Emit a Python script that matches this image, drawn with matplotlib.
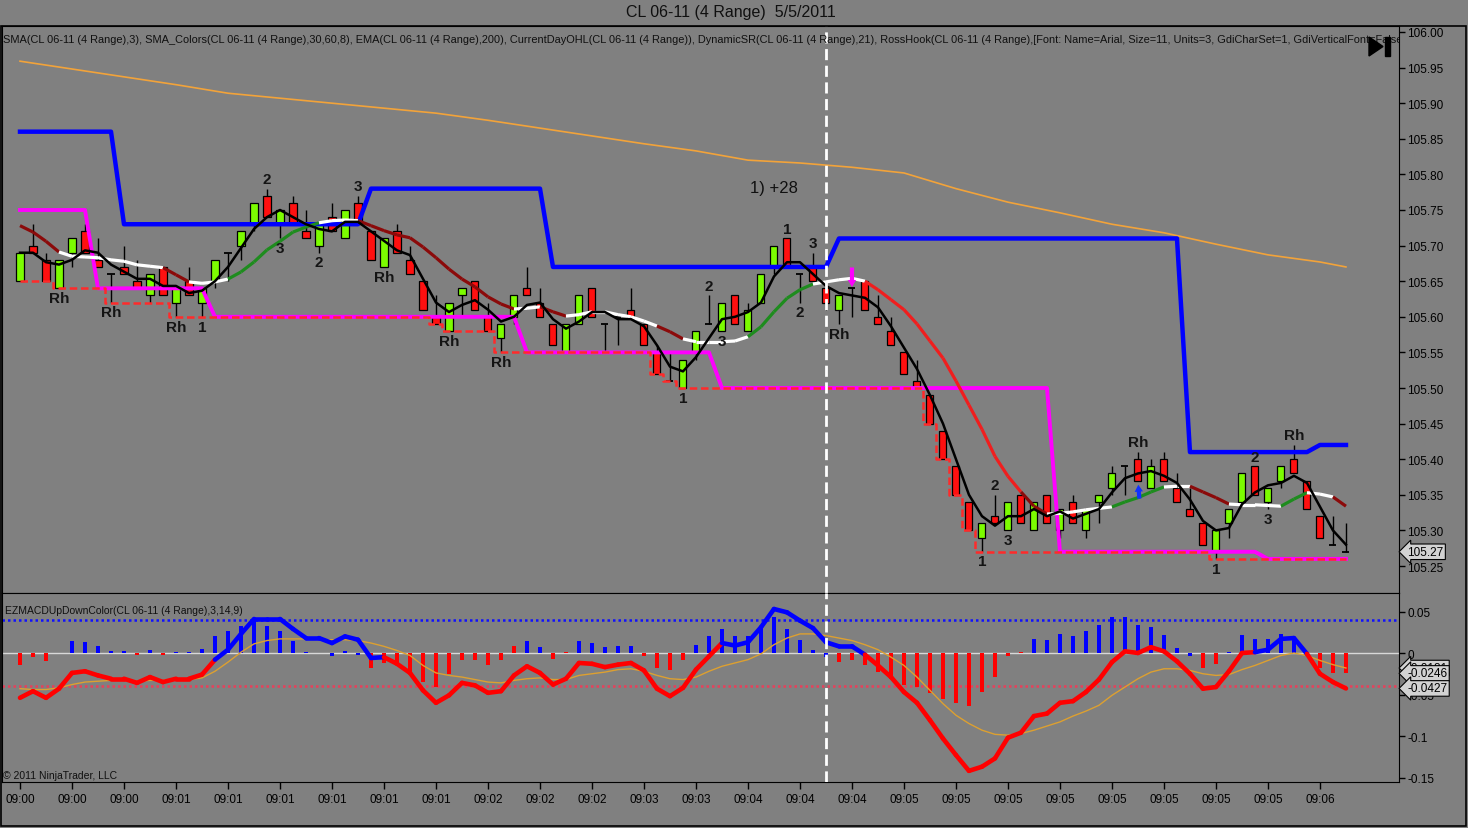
import numpy as np
import pandas as pd
import matplotlib
matplotlib.use('Agg')
import matplotlib.pyplot as plt
from matplotlib.collections import LineCollection
from matplotlib.patches import Rectangle, Polygon

plt.rcParams['font.family'] = ['Liberation Sans', 'DejaVu Sans']

# ---- 4 range bars, CL 06-11, 5/5/2011 ----
opens = [105.65, 105.70, 105.68, 105.64, 105.69, 105.72, 105.68, 105.66, 105.67, 105.65,
         105.63, 105.67, 105.62, 105.65, 105.62, 105.65, 105.69, 105.70, 105.73, 105.77,
         105.73, 105.76, 105.72, 105.70, 105.74, 105.71, 105.76, 105.72, 105.67, 105.72,
         105.68, 105.65, 105.60, 105.58, 105.63, 105.65, 105.60, 105.57, 105.60, 105.64,
         105.62, 105.59, 105.55, 105.59, 105.64, 105.59, 105.60, 105.61, 105.59, 105.55,
         105.51, 105.50, 105.55, 105.59, 105.58, 105.63, 105.58, 105.62, 105.67, 105.71,
         105.66, 105.67, 105.64, 105.61, 105.64, 105.65, 105.60, 105.58, 105.55, 105.51,
         105.49, 105.44, 105.39, 105.34, 105.29, 105.32, 105.30, 105.35, 105.30, 105.35,
         105.30, 105.34, 105.30, 105.34, 105.36, 105.39, 105.40, 105.36, 105.40, 105.36,
         105.33, 105.31, 105.27, 105.31, 105.34, 105.39, 105.34, 105.37, 105.40, 105.37,
         105.32, 105.28, 105.27]
highs = [105.69, 105.73, 105.69, 105.68, 105.71, 105.73, 105.71, 105.66, 105.70, 105.68,
         105.66, 105.67, 105.64, 105.67, 105.64, 105.68, 105.69, 105.72, 105.76, 105.78,
         105.75, 105.77, 105.75, 105.73, 105.76, 105.75, 105.77, 105.72, 105.71, 105.73,
         105.70, 105.65, 105.63, 105.62, 105.64, 105.65, 105.62, 105.59, 105.63, 105.67,
         105.64, 105.59, 105.59, 105.63, 105.64, 105.59, 105.60, 105.64, 105.59, 105.56,
         105.55, 105.54, 105.58, 105.63, 105.62, 105.63, 105.62, 105.66, 105.70, 105.71,
         105.66, 105.69, 105.64, 105.63, 105.64, 105.65, 105.63, 105.60, 105.55, 105.54,
         105.49, 105.44, 105.39, 105.34, 105.31, 105.35, 105.34, 105.35, 105.34, 105.35,
         105.33, 105.35, 105.33, 105.35, 105.39, 105.39, 105.41, 105.40, 105.41, 105.38,
         105.36, 105.31, 105.30, 105.33, 105.38, 105.39, 105.36, 105.39, 105.42, 105.37,
         105.32, 105.32, 105.31]
lows = [105.65, 105.69, 105.65, 105.64, 105.67, 105.69, 105.67, 105.62, 105.66, 105.64,
        105.62, 105.63, 105.60, 105.63, 105.60, 105.64, 105.65, 105.68, 105.72, 105.74,
        105.71, 105.73, 105.71, 105.69, 105.72, 105.71, 105.73, 105.68, 105.67, 105.69,
        105.66, 105.61, 105.59, 105.58, 105.60, 105.61, 105.58, 105.55, 105.59, 105.63,
        105.60, 105.56, 105.55, 105.59, 105.60, 105.55, 105.56, 105.60, 105.56, 105.52,
        105.51, 105.50, 105.54, 105.59, 105.58, 105.59, 105.58, 105.62, 105.66, 105.67,
        105.62, 105.65, 105.61, 105.59, 105.60, 105.61, 105.59, 105.56, 105.52, 105.50,
        105.45, 105.40, 105.35, 105.30, 105.27, 105.31, 105.30, 105.31, 105.30, 105.31,
        105.29, 105.31, 105.29, 105.31, 105.35, 105.35, 105.37, 105.36, 105.37, 105.34,
        105.32, 105.28, 105.26, 105.29, 105.34, 105.35, 105.33, 105.36, 105.38, 105.33,
        105.29, 105.28, 105.27]
closes = [105.69, 105.69, 105.65, 105.68, 105.71, 105.69, 105.67, 105.66, 105.66, 105.64,
          105.66, 105.63, 105.64, 105.63, 105.64, 105.68, 105.69, 105.72, 105.76, 105.74,
          105.75, 105.73, 105.71, 105.73, 105.72, 105.75, 105.73, 105.68, 105.71, 105.69,
          105.66, 105.61, 105.59, 105.62, 105.64, 105.61, 105.58, 105.59, 105.63, 105.63,
          105.60, 105.56, 105.59, 105.63, 105.60, 105.59, 105.60, 105.60, 105.56, 105.52,
          105.51, 105.54, 105.58, 105.59, 105.62, 105.59, 105.61, 105.66, 105.70, 105.67,
          105.66, 105.65, 105.62, 105.63, 105.64, 105.61, 105.59, 105.56, 105.52, 105.50,
          105.45, 105.40, 105.35, 105.30, 105.31, 105.31, 105.34, 105.31, 105.34, 105.31,
          105.33, 105.31, 105.33, 105.35, 105.38, 105.39, 105.37, 105.39, 105.37, 105.34,
          105.32, 105.28, 105.30, 105.33, 105.38, 105.35, 105.36, 105.39, 105.38, 105.33,
          105.29, 105.28, 105.27]

# SMA_Colors line and its colour per segment
sma_col = [105.728, 105.719, 105.706, 105.691, 105.685, 105.684, 105.683, 105.680, 105.678, 105.673,
           105.671, 105.669, 105.659, 105.649, 105.647, 105.649, 105.653, 105.663, 105.677, 105.694,
           105.706, 105.719, 105.726, 105.732, 105.735, 105.736, 105.735, 105.728, 105.721, 105.715,
           105.711, 105.698, 105.683, 105.667, 105.653, 105.642, 105.628, 105.618, 105.611, 105.612,
           105.614, 105.607, 105.601, 105.603, 105.607, 105.607, 105.603, 105.600, 105.594, 105.587,
           105.579, 105.569, 105.565, 105.565, 105.565, 105.566, 105.572, 105.586, 105.607, 105.626,
           105.638, 105.646, 105.649, 105.652, 105.654, 105.650, 105.638, 105.624, 105.610, 105.590,
           105.566, 105.542, 105.510, 105.476, 105.442, 105.404, 105.376, 105.354, 105.334, 105.323,
           105.324, 105.326, 105.329, 105.331, 105.333, 105.340, 105.346, 105.354, 105.361, 105.362,
           105.362, 105.354, 105.346, 105.337, 105.336, 105.336, 105.335, 105.334, 105.344, 105.353,
           105.351, 105.347, 105.334]
sma_codes = ('dddd' 'wwwwwwww' 'dd' 'www' 'ggggggg' 'www' 'dddddddddddd' 'ww' 'dd' 'wwwwwww'
             'dd' 'wwwww' 'ggggg' 'wwww' 'RRRRRRRRRRRR' 'dd' 'wwwww' 'gggg' 'ww' 'ddd' 'wwww'
             'gg' 'ww' 'd')

# EMA(200) read at every fourth bar
ema_bars = [0, 4, 8, 12, 16, 20, 24, 28, 32, 36, 40, 44, 48, 52, 56, 60, 64, 68, 72, 76,
            80, 84, 88, 92, 96, 100, 102]
ema_vals = [105.959, 105.948, 105.937, 105.926, 105.914, 105.907, 105.900, 105.893, 105.886,
            105.876, 105.865, 105.854, 105.843, 105.833, 105.820, 105.816, 105.810, 105.802,
            105.780, 105.761, 105.746, 105.730, 105.718, 105.702, 105.687, 105.677, 105.670]

# DynamicSR levels
resist = [105.86]*8 + [105.73]*19 + [105.78]*14 + [105.67]*22 + [105.71]*27 + [105.41]*10 + [105.42]*3
support = [105.75]*6 + [105.64]*9 + [105.60]*24 + [105.55]*15 + [105.50]*26 + [105.27]*16 + [105.26]*7

# RossHook labels
hook_bars = [3, 7, 12, 14, 19, 20, 23, 26, 28, 33, 37, 51, 53, 54, 59, 60, 61, 63, 74, 75, 76,
             86, 92, 95, 96, 98]
hook_text = ['Rh', 'Rh', 'Rh', '1', '2', '3', '2', '3', 'Rh', 'Rh', 'Rh', '1', '2', '3', '1',
             '2', '3', 'Rh', '1', '2', '3', 'Rh', '1', '2', '3', 'Rh']
hook_side = ['b', 'b', 'b', 'b', 'a', 'b', 'b', 'a', 'b', 'b', 'b', 'b', 'a', 'b', 'a',
             'b', 'a', 'b', 'b', 'a', 'b', 'a', 'b', 'a', 'b', 'a']

# EZMACD panel
hist = [-0.015, -0.005, -0.010, 0.000, 0.015, 0.013, 0.008, 0.002, 0.002, -0.002,
        0.004, -0.002, 0.001, 0.001, 0.005, 0.020, 0.026, 0.033, 0.041, 0.033,
        0.027, 0.014, 0.001, 0.000, -0.004, 0.003, -0.002, -0.018, -0.012, -0.015,
        -0.025, -0.035, -0.041, -0.025, -0.008, -0.008, -0.014, -0.009, 0.008, 0.014,
        0.007, -0.007, 0.001, 0.015, 0.012, 0.007, 0.008, 0.008, -0.004, -0.018,
        -0.020, -0.009, 0.010, 0.020, 0.029, 0.021, 0.020, 0.031, 0.043, 0.029,
        0.016, 0.004, -0.005, -0.011, -0.009, -0.015, -0.023, -0.031, -0.039, -0.041,
        -0.048, -0.056, -0.060, -0.064, -0.047, -0.029, -0.004, 0.001, 0.017, 0.016,
        0.023, 0.021, 0.027, 0.034, 0.043, 0.043, 0.034, 0.031, 0.022, 0.006,
        -0.004, -0.018, -0.013, 0.001, 0.022, 0.017, 0.017, 0.023, 0.019, 0.000,
        -0.018, -0.024, -0.0246]
hist_codes = ('rrrbbbbbbrbrbbbbbbbbbbbbbbb' 'rrrrrrrrrrrr' 'bb' 'rr' 'bbbbb' 'rrrr' 'b'
              'bbbbbbbbbb' 'rrrrrrrrrrrrrrr' 'bbbbbbbbbbbbb' 'rr' 'bbbbbbb' 'rrr')
macd = [-0.054, -0.046, -0.054, -0.043, -0.024, -0.022, -0.027, -0.031, -0.031, -0.036,
        -0.029, -0.035, -0.031, -0.031, -0.026, -0.008, 0.004, 0.023, 0.041, 0.041,
        0.041, 0.029, 0.018, 0.018, 0.012, 0.020, 0.016, -0.006, -0.005, -0.013,
        -0.024, -0.045, -0.060, -0.051, -0.036, -0.039, -0.048, -0.046, -0.027, -0.016,
        -0.024, -0.038, -0.031, -0.012, -0.013, -0.017, -0.014, -0.012, -0.021, -0.043,
        -0.052, -0.042, -0.020, -0.004, 0.012, 0.009, 0.013, 0.031, 0.053, 0.049,
        0.039, 0.030, 0.013, 0.008, 0.008, -0.002, -0.015, -0.029, -0.047, -0.060,
        -0.081, -0.103, -0.123, -0.142, -0.137, -0.127, -0.102, -0.096, -0.076, -0.073,
        -0.060, -0.058, -0.047, -0.032, -0.011, 0.002, 0.000, 0.007, 0.002, -0.010,
        -0.025, -0.043, -0.041, -0.022, 0.000, 0.001, 0.004, 0.017, 0.018, -0.001,
        -0.025, -0.035, -0.0427]
macd_codes = 'r'*16 + 'b'*13 + 'r'*26 + 'b'*11 + 'r'*30 + 'b'*4 + 'r'*3
signal = [-0.043, -0.044, -0.044, -0.042, -0.038, -0.035, -0.034, -0.033, -0.033, -0.034,
          -0.033, -0.033, -0.032, -0.032, -0.030, -0.022, -0.011, 0.001, 0.011, 0.015,
          0.017, 0.017, 0.017, 0.016, 0.016, 0.016, 0.015, 0.012, 0.008, 0.003,
          -0.003, -0.015, -0.024, -0.027, -0.029, -0.032, -0.035, -0.036, -0.033, -0.031,
          -0.030, -0.032, -0.032, -0.027, -0.025, -0.023, -0.020, -0.019, -0.022, -0.027,
          -0.031, -0.032, -0.029, -0.022, -0.016, -0.012, -0.008, -0.001, 0.010, 0.018,
          0.023, 0.023, 0.021, 0.018, 0.015, 0.010, 0.004, -0.005, -0.015, -0.029,
          -0.045, -0.061, -0.075, -0.085, -0.093, -0.098, -0.099, -0.097, -0.093, -0.088,
          -0.083, -0.076, -0.070, -0.063, -0.051, -0.041, -0.031, -0.023, -0.019, -0.019,
          -0.021, -0.025, -0.027, -0.026, -0.020, -0.015, -0.009, -0.003, 0.000, -0.003,
          -0.009, -0.014, -0.0181]

time_labels = ['09:00', '09:00', '09:00', '09:01', '09:01', '09:01', '09:01', '09:01', '09:01',
               '09:02', '09:02', '09:02', '09:03', '09:03', '09:04', '09:04', '09:04', '09:05',
               '09:05', '09:05', '09:05', '09:05', '09:05', '09:05', '09:05', '09:06']

# ---- figure ----
BG = '#808080'
fig = plt.figure(figsize=(14.68, 8.29), dpi=100, facecolor=BG)
W, H = 1468.0, 829.0
def box(l, t, r, b):
    return [l / W, 1 - b / H, (r - l) / W, (b - t) / H]

ax = fig.add_axes(box(2, 27, 1399, 594), facecolor=BG)
ax2 = fig.add_axes(box(2, 594, 1399, 783), facecolor=BG, sharex=ax)

x = np.arange(len(closes))
o, h, l, c = (np.array(v) for v in (opens, highs, lows, closes))

# candles
ax.vlines(x, l, h, color='black', lw=1, zorder=3)
bw = 0.54
for i in x:
    if c[i] == o[i]:
        ax.hlines(o[i], i - bw / 2, i + bw / 2, color='black', lw=1.3, zorder=4)
    else:
        fc = '#7CFC00' if c[i] > o[i] else '#FF1010'
        ax.add_patch(Rectangle((i - bw / 2, min(o[i], c[i])), bw, abs(c[i] - o[i]),
                               fc=fc, ec='black', lw=0.9, zorder=4))

# EMA 200
ax.plot(ema_bars, ema_vals, color='#F2A33A', lw=1.2, zorder=2)

# DynamicSR
ax.plot(x, resist, color='#0000FF', lw=3.2, zorder=5)
ax.plot(x, support, color='#FF00FF', lw=2.8, zorder=5)

# CurrentDayOHL low
day_low = np.minimum.accumulate(l)
ax.plot(x, day_low, color='#FF2A2A', lw=1.8, ls=(0, (3, 1.5)), drawstyle='steps-mid', zorder=6)

# SMA_Colors
cmap = {'d': '#8B0A0A', 'w': '#FFFFFF', 'g': '#1E8C1E', 'R': '#F01E1E'}
pts = np.column_stack([x, sma_col])
segs = np.stack([pts[:-1], pts[1:]], axis=1)
ax.add_collection(LineCollection(segs, colors=[cmap[k] for k in sma_codes[1:]], lw=2.3, zorder=7))

# SMA 3
sma3 = pd.Series(closes).rolling(3, min_periods=1).mean()
ax.plot(x, sma3, color='black', lw=1.8, zorder=8)

# RossHook labels
for b, t, s in zip(hook_bars, hook_text, hook_side):
    if s == 'a':
        ax.annotate(t, (b, h[b]), xytext=(0, 7), textcoords='offset points', ha='center',
                    va='center', fontsize=11, fontweight='bold', color='#141414', zorder=9)
    else:
        ax.annotate(t, (b, l[b]), xytext=(0, -7), textcoords='offset points', ha='center',
                    va='center', fontsize=11, fontweight='bold', color='#141414', zorder=9)

# trade markers
arrow = 'simple,head_width=0.6,head_length=0.5,tail_width=0.3'
ax.annotate('', xy=(64, h[64]), xycoords='data', xytext=(0, 15), textcoords='offset points',
            arrowprops=dict(arrowstyle=arrow, color='#FF00FF', lw=0, shrinkA=0, shrinkB=1),
            zorder=9)
ax.annotate('', xy=(86, l[86]), xycoords='data', xytext=(1, -13), textcoords='offset points',
            arrowprops=dict(arrowstyle=arrow, color='#1030FF', lw=0, shrinkA=0, shrinkB=3),
            zorder=9)
ax.text(58, 105.782, '1) +28', fontsize=12, ha='center', va='center', color='#101010', zorder=9)

# session divider
for a in (ax, ax2):
    a.axvline(62, color='white', lw=2, ls=(0, (4, 2)), zorder=10)

ax.set_xlim(-1.385, 106.08)
ax.set_ylim(105.2121, 106.0084)
ax.set_yticks(np.arange(105.25, 106.001, 0.05))
ax.yaxis.tick_right()
ax.tick_params(axis='y', direction='out', length=4, width=1, labelsize=8.5, pad=2)
ax.tick_params(axis='x', bottom=False, labelbottom=False)
for sp in ax.spines.values():
    sp.set_color('black')

ax.text(0.001, 0.977, 'SMA(CL 06-11 (4 Range),3), SMA_Colors(CL 06-11 (4 Range),30,60,8), '
        'EMA(CL 06-11 (4 Range),200), CurrentDayOHL(CL 06-11 (4 Range)), DynamicSR(CL 06-11 '
        '(4 Range),21), RossHook(CL 06-11 (4 Range),[Font: Name=Arial, Size=11, Units=3, '
        'GdiCharSet=1, GdiVerticalFont=False])', transform=ax.transAxes, fontsize=7.9,
        va='center', ha='left', color='#101010', clip_on=True, zorder=11)

tag = dict(boxstyle='larrow,pad=0.15', fc='#D2D2D2', ec='black', lw=0.8)
ax.annotate(f'{closes[-1]:.2f}', xy=(1.0, closes[-1]), xycoords=('axes fraction', 'data'),
            xytext=(6, 0), textcoords='offset points', fontsize=8.5, va='center', ha='left',
            bbox=tag, annotation_clip=False, zorder=12)

# MACD panel
ax2.axhline(0, color='#D8D8D8', lw=1, zorder=1)
ax2.axhline(0.04, color='#1010FF', lw=1.8, ls=(0, (1, 1.2)), zorder=1)
ax2.axhline(-0.04, color='#E8405A', lw=1.8, ls=(0, (1, 1.2)), zorder=1)
ax2.bar(x, hist, width=0.24, color=['#0000FF' if k == 'b' else '#FF0000' for k in hist_codes],
        zorder=2)
ax2.plot(x, signal, color='#DDA030', lw=1, zorder=3)
mp = np.column_stack([x, macd])
ax2.add_collection(LineCollection(np.stack([mp[:-1], mp[1:]], axis=1),
                                  colors=['#0000FF' if k == 'b' else '#FF0000' for k in macd_codes[1:]],
                                  lw=3.3, capstyle='round', joinstyle='round', zorder=4))
ax2.set_ylim(-0.15542, 0.07229)
ax2.set_yticks([0.05, 0, -0.05, -0.1, -0.15])
ax2.set_yticklabels(['0.05', '0', '-0.05', '-0.1', '-0.15'])
ax2.yaxis.tick_right()
ax2.tick_params(axis='y', direction='out', length=4, width=1, labelsize=8.5, pad=2)
ax2.set_xticks(x[::4])
ax2.set_xticklabels(time_labels)
ax2.tick_params(axis='x', direction='out', length=5, width=1, labelsize=8.5, pad=3)
for sp in ax2.spines.values():
    sp.set_color('black')

# value tags (stacked like the original, last one drawn on top)
for val in (signal[-1], hist[-1], macd[-1]):
    ax2.annotate(f'{val:.4f}', xy=(1.0, val), xycoords=('axes fraction', 'data'),
                 xytext=(6, 0), textcoords='offset points', fontsize=8.5, va='center',
                 ha='left', bbox=tag, annotation_clip=False, zorder=12)

ax2.text(0.002, 0.91, 'EZMACDUpDownColor(CL 06-11 (4 Range),3,14,9)', transform=ax2.transAxes,
         fontsize=7.5, va='center', ha='left', color='#101010')
ax2.text(0.001, 0.037, '\u00a9 2011 NinjaTrader, LLC', transform=ax2.transAxes,
         fontsize=7.5, va='center', ha='left', color='#101010')

fig.text(731 / W, 1 - 13 / H, 'CL 06-11 (4 Range)  5/5/2011', fontsize=11.5, ha='center',
         va='center', color='#101010')

# outer frame and scroll-to-end button
fig.patches.append(Rectangle((0.5 / W, 1 - 827 / H), 1465.5 / W, 800 / H, transform=fig.transFigure,
                             fill=False, ec='black', lw=1.2))
fig.patches.append(Polygon([(1369 / W, 1 - 38 / H), (1369 / W, 1 - 57 / H), (1383 / W, 1 - 47.5 / H)],
                           closed=True, transform=fig.transFigure, fc='black', ec='black'))
fig.patches.append(Rectangle((1385 / W, 1 - 57 / H), 5 / W, 19 / H, transform=fig.transFigure,
                             fc='black', ec='black'))

plt.savefig('out.png', dpi=100, facecolor=BG)
